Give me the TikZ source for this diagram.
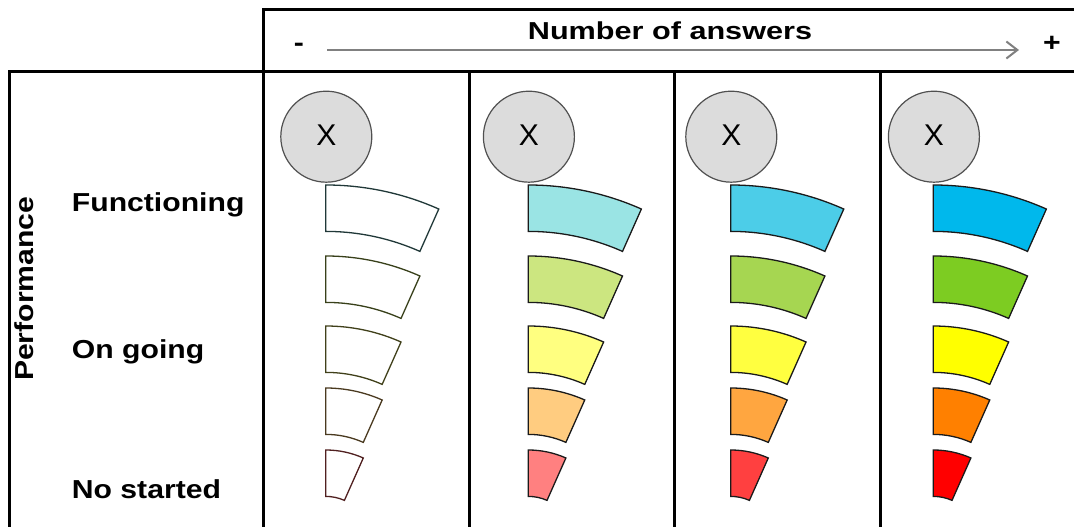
\documentclass[tikz,border=0pt]{standalone}
\usepackage{fontspec}
\setmainfont{Liberation Sans}
\usetikzlibrary{arrows.meta}
% fills: column 1..4, rows 0..4 (top to bottom)
\definecolor{f10}{HTML}{FFFFFF}\definecolor{f11}{HTML}{FFFFFF}\definecolor{f12}{HTML}{FFFFFF}\definecolor{f13}{HTML}{FFFFFF}\definecolor{f14}{HTML}{FFFFFF}
\definecolor{f20}{HTML}{9AE4E4}\definecolor{f21}{HTML}{CCE680}\definecolor{f22}{HTML}{FFFF80}\definecolor{f23}{HTML}{FFCC80}\definecolor{f24}{HTML}{FF8080}
\definecolor{f30}{HTML}{4CCDE8}\definecolor{f31}{HTML}{A6D651}\definecolor{f32}{HTML}{FFFF40}\definecolor{f33}{HTML}{FFA640}\definecolor{f34}{HTML}{FF4040}
\definecolor{f40}{HTML}{00B8EC}\definecolor{f41}{HTML}{7DCC22}\definecolor{f42}{HTML}{FFFF00}\definecolor{f43}{HTML}{FF8000}\definecolor{f44}{HTML}{FF0000}
% outlines
\definecolor{d10}{HTML}{203838}\definecolor{d11}{HTML}{38401A}\definecolor{d12}{HTML}{40401A}\definecolor{d13}{HTML}{4A3A20}\definecolor{d14}{HTML}{502020}
\definecolor{d20}{HTML}{1A1A1A}\definecolor{d21}{HTML}{1A1A1A}\definecolor{d22}{HTML}{1A1A1A}\definecolor{d23}{HTML}{1A1A1A}\definecolor{d24}{HTML}{1A1A1A}
\definecolor{d30}{HTML}{1A1A1A}\definecolor{d31}{HTML}{1A1A1A}\definecolor{d32}{HTML}{1A1A1A}\definecolor{d33}{HTML}{1A1A1A}\definecolor{d34}{HTML}{1A1A1A}
\definecolor{d40}{HTML}{1A1A1A}\definecolor{d41}{HTML}{1A1A1A}\definecolor{d42}{HTML}{1A1A1A}\definecolor{d43}{HTML}{1A1A1A}\definecolor{d44}{HTML}{1A1A1A}
\definecolor{circfill}{HTML}{DCDCDC}
\definecolor{circline}{HTML}{505050}
\definecolor{arrgray}{HTML}{808080}
\newcommand{\lbltext}[1]{\scalebox{1.16}[1]{#1}}
\begin{document}
\begin{tikzpicture}[x=1pt,y=1pt,
  gridline/.style={line width=3pt, draw=black, line join=miter},
  seg/.style={line width=1.3pt, line join=miter},
  xcirc/.style={circle, draw=circline, fill=circfill, line width=1.2pt, minimum size=91pt, inner sep=0pt, font=\fontsize{30}{30}\selectfont},
  lbl/.style={inner sep=0pt, font=\fontsize{26}{26}\selectfont\bfseries},
  hdr/.style={inner sep=0pt, font=\fontsize{24.5}{24.5}\selectfont\bfseries},
  grayarrow/.style={draw=arrgray, line width=2pt, -{Straight Barb[length=11pt,width=17pt]}}]
\useasboundingbox (0,0) rectangle (1074,527);
\clip (0,0) rectangle (1074,527);
\fill[white] (0,0) rectangle (1074,527);
% grid
\draw[gridline] (9.3,-10) -- (9.3,455.5) -- (1090,455.5);
\draw[gridline] (263.3,-10) -- (263.3,517.7) -- (1090,517.7);
\foreach \gx in {469,674.3,880}{\draw[gridline] (\gx,-10) -- (\gx,455.5);}
% header
\node[hdr, anchor=base] (noa) at (670,487) {\scalebox{1.25}[1]{Number of answers}};
\node[lbl, anchor=base] (minus) at (298.8,475) {\lbltext{-}};
\node[lbl, anchor=base] (plus) at (1052,475) {\lbltext{+}};
\coordinate (arS) at (327,477);
\coordinate (arE) at (1019,477);
\draw[grayarrow] (arS) -- (arE);
% row labels
\node[lbl, rotate=90, anchor=base] (perf) at (33.3,238.3) {\lbltext{Performance}};
\node[lbl, anchor=base west] (func) at (71.7,315) {\lbltext{Functioning}};
\node[lbl, anchor=base west] (ongo) at (71.7,168.5) {\lbltext{On going}};
\node[lbl, anchor=base west] (nost) at (71.7,28) {\lbltext{No started}};
% columns
\foreach \c/\xx in {1/325.7, 2/528.3, 3/730.7, 4/933.3}{
  \node[xcirc] (x\c) at ({\xx+0.6},390.3) {\raisebox{3.5pt}{X}};
  \foreach \r/\yt/\R in {0/185/278, 1/256/231.6, 2/326/185.2, 3/388/138.8, 4/450/92.4}{
    \path[seg, fill=f\c\r, draw=d\c\r] ({\xx},{527-\yt}) arc[start angle=90, end angle=66, radius=\R] -- ++(246:46.4) arc[start angle=66, end angle=90, radius={\R-46.4}] -- cycle;
  }
}
\end{tikzpicture}
\end{document}
